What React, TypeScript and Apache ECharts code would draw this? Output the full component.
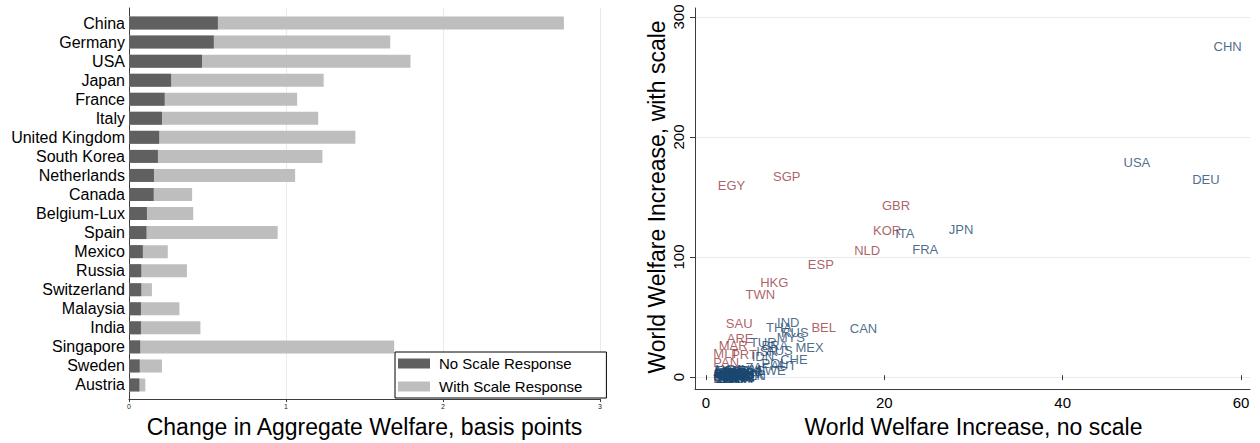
import React, { useEffect, useRef } from "react";
import * as echarts from "echarts";

// ---------- Left panel: change in aggregate welfare (basis points) ----------
const countries = [
  "China", "Germany", "USA", "Japan", "France", "Italy", "United Kingdom",
  "South Korea", "Netherlands", "Canada", "Belgium-Lux", "Spain", "Mexico",
  "Russia", "Switzerland", "Malaysia", "India", "Singapore", "Sweden", "Austria",
];
const noScaleResponse = [
  0.566, 0.54, 0.465, 0.268, 0.227, 0.21, 0.192, 0.184, 0.159, 0.157,
  0.114, 0.111, 0.088, 0.078, 0.078, 0.076, 0.076, 0.071, 0.068, 0.066,
];
const withScaleResponse = [
  2.77, 1.664, 1.793, 1.24, 1.071, 1.205, 1.442, 1.232, 1.058, 0.402,
  0.409, 0.947, 0.247, 0.369, 0.146, 0.321, 0.455, 1.689, 0.21, 0.104,
];
const leftTicks = [0, 1, 2, 3];

// ---------- Right panel: world welfare increase (labels only) ----------
const redCodes = ["EGY", "SGP", "GBR", "KOR", "NLD", "ESP", "HKG", "TWN", "SAU", "BEL", "ARE", "MAR", "MLT", "PRT", "PAN"];
const redNoScale = [1.1, 7.3, 19.5, 18.5, 16.4, 11.2, 5.85, 4.2, 2.0, 11.6, 2.1, 1.2, 0.6, 2.6, 0.6];
const redWithScale = [158.5, 166.7, 142.5, 121.5, 104.7, 93, 77.3, 67.3, 43.2, 40.2, 31, 25, 18, 17.5, 11];

const blueCodes = [
  "CHN", "USA", "DEU", "ITA", "JPN", "FRA", "CAN", "IND", "THA", "RUS", "MYS", "MEX",
  "TUR", "BRA", "AUS", "ISR", "IDN", "CHE", "POL", "AUT", "SWE",
  "ARG", "BGD", "BGR", "CHL", "COL", "CZE", "DNK", "FIN", "GRC", "HUN", "IRL", "IRN",
  "KAZ", "NGA", "NOR", "NZL", "PAK", "PER", "PHL", "ROU", "SVK", "UKR", "VEN", "VNM", "ZAF",
  "LTU", "LVA", "EST", "SVN", "HRV", "CYP", "LUX", "ISL", "TUN", "JOR",
  "OMN", "KWT", "QAT", "LKA", "ECU", "URY", "CRI", "GTM", "KEN", "ETH",
];
const blueNoScale = [
  56.7, 46.6, 54.3, 21.0, 27.0, 22.9, 15.9, 7.75, 6.5, 8.2, 7.7, 9.8,
  4.7, 6.0, 6.5, 5.4, 4.9, 8.1, 6.0, 7.0, 5.4,
  0.6, 1.2, 0.7, 1.8, 0.9, 2.3, 1.5, 0.6, 2.0, 1.1, 2.8, 3.3,
  1.6, 0.8, 3.0, 2.5, 1.3, 0.6, 3.6, 1.9, 0.7, 2.2, 3.5, 2.7, 4.2,
  0.6, 0.8, 1.0, 1.3, 0.7, 1.6, 0.9, 1.2, 2.1, 1.4,
  0.6, 1.8, 1.0, 2.4, 0.7, 1.5, 1.1, 2.0, 0.8, 1.3,
];
const blueWithScale = [
  275, 177.8, 164, 119, 122.2, 105.5, 39.3, 44.3, 40.2, 36, 31.3, 23,
  27.5, 24.5, 21, 19.5, 16, 13.3, 9.5, 8.3, 4.2,
  3, 2, 1.5, 2.5, -0.5, 1, -1, -1.5, -2, -1.5, 3.5, 1.5,
  4, 4.5, 0, -1, 0.5, 0.5, 3.5, 0.5, -2, 2.5, 0, 5, 6,
  -2.5, -3, -2.5, -3, 1, -2.5, 2, -1, -2.5, 2.5,
  -1, -3, 0.5, -2, 3.5, 1.5, -3, 0, 2.5, -0.5,
];
const rightXTicks = [0, 20, 40, 60];
const rightYTicks = [0, 100, 200, 300];

const FONT = "Liberation Sans, Arial, Helvetica, sans-serif";
const GRID_LINE = "#e4ecef";
const AXIS = "#3c3c3c";
const DARK = "#606060";
const LIGHT = "#bebebe";
const RED = "#973a42";
const BLUE = "#1a476f";

export default function App() {
  const ref = useRef<HTMLDivElement>(null);

  useEffect(() => {
    if (!ref.current) return;
    const chart = echarts.init(ref.current, undefined, { renderer: "svg" });

    const redData = redCodes.map((c, i) => [redNoScale[i], redWithScale[i], c]);
    const blueData = blueCodes.map((c, i) => [blueNoScale[i], blueWithScale[i], c]);

    const frameAxis = {
      type: "value",
      min: 0,
      max: 1,
      axisLine: { show: true, lineStyle: { color: AXIS, width: 1 } },
      axisTick: { show: false },
      axisLabel: { show: false },
      splitLine: { show: false },
    };

    const option: any = {
      animation: false,
      textStyle: { fontFamily: FONT },
      grid: [
        { left: 129, right: 660, top: 8, bottom: 43 },
        { left: 129, right: 660, top: 13.5, bottom: 48.5 },
        { left: 695, right: 10, top: 8, bottom: 54 },
        { left: 695, right: 10, top: 17, bottom: 66 },
        { left: 706, right: 19, top: 17, bottom: 54 },
      ],
      xAxis: [
        {
          gridIndex: 0,
          type: "value",
          min: leftTicks[0],
          max: leftTicks[leftTicks.length - 1],
          interval: 1,
          axisLine: { show: true, lineStyle: { color: AXIS } },
          axisTick: { show: true, length: 3, lineStyle: { color: AXIS } },
          axisLabel: { fontSize: 7, margin: 4, color: "#222" },
          splitLine: { show: true, lineStyle: { color: GRID_LINE } },
          name: "Change in Aggregate Welfare, basis points",
          nameLocation: "middle",
          nameGap: 15,
          nameTextStyle: { fontSize: 23, color: "#000" },
        },
        { gridIndex: 1, type: "value", min: 0, max: 3, show: false },
        { gridIndex: 2, ...frameAxis },
        { gridIndex: 3, type: "value", min: 0, max: 1, show: false },
        {
          gridIndex: 4,
          type: "value",
          min: rightXTicks[0],
          max: rightXTicks[rightXTicks.length - 1],
          interval: 20,
          axisLine: { show: false },
          axisTick: { show: true, length: 5, lineStyle: { color: AXIS } },
          axisLabel: { fontSize: 15, margin: 8, color: "#000" },
          splitLine: { show: false },
          name: "World Welfare Increase, no scale",
          nameLocation: "middle",
          nameGap: 25,
          nameTextStyle: { fontSize: 23, color: "#000" },
        },
      ],
      yAxis: [
        { gridIndex: 0, ...frameAxis },
        {
          gridIndex: 1,
          type: "category",
          data: countries,
          inverse: true,
          axisLine: { show: false },
          axisTick: { show: false },
          axisLabel: { fontSize: 16, color: "#000", margin: 4, interval: 0 },
        },
        { gridIndex: 2, ...frameAxis },
        {
          gridIndex: 3,
          type: "value",
          min: rightYTicks[0],
          max: rightYTicks[rightYTicks.length - 1],
          interval: 100,
          axisLine: { show: false },
          axisTick: { show: true, length: 5, lineStyle: { color: AXIS } },
          axisLabel: { fontSize: 15, rotate: 90, margin: 9, color: "#000" },
          splitLine: { show: true, lineStyle: { color: GRID_LINE } },
          name: "World Welfare Increase, with scale",
          nameLocation: "middle",
          nameRotate: 90,
          nameGap: 27,
          nameTextStyle: { fontSize: 23, color: "#000" },
        },
        { gridIndex: 4, type: "value", min: -10, max: 300, show: false },
      ],
      legend: {
        data: ["No Scale Response", "With Scale Response"],
        orient: "vertical",
        left: 395,
        top: 352,
        icon: "rect",
        itemWidth: 32,
        itemHeight: 10,
        itemGap: 8,
        borderColor: "#000",
        borderWidth: 1,
        borderRadius: 0,
        backgroundColor: "#fff",
        padding: [4, 24, 4, 3],
        textStyle: { fontSize: 15, color: "#000", padding: [0, 0, 0, 4] },
      },
      series: [
        {
          type: "bar",
          name: "With Scale Response",
          xAxisIndex: 1,
          yAxisIndex: 1,
          data: withScaleResponse,
          barWidth: 13,
          barGap: "-100%",
          itemStyle: { color: LIGHT },
        },
        {
          type: "bar",
          name: "No Scale Response",
          xAxisIndex: 1,
          yAxisIndex: 1,
          data: noScaleResponse,
          barWidth: 13,
          barGap: "-100%",
          itemStyle: { color: DARK },
        },
        {
          type: "scatter",
          name: "red",
          xAxisIndex: 4,
          yAxisIndex: 4,
          symbolSize: 0,
          data: redData,
          itemStyle: { color: RED },
          label: {
            show: true,
            position: "right",
            distance: 2,
            fontSize: 13,
            color: RED,
            formatter: (p: any) => p.data[2],
          },
        },
        {
          type: "scatter",
          name: "blue",
          xAxisIndex: 4,
          yAxisIndex: 4,
          symbolSize: 0,
          data: blueData,
          itemStyle: { color: BLUE },
          label: {
            show: true,
            position: "right",
            distance: 2,
            fontSize: 13,
            color: BLUE,
            formatter: (p: any) => p.data[2],
          },
        },
      ],
    };

    chart.setOption(option);
    return () => chart.dispose();
  }, []);

  return (
    <div
      ref={ref}
      style={{ position: "fixed", left: 0, top: 0, width: 1260, height: 443, background: "#fff" }}
    />
  );
}
